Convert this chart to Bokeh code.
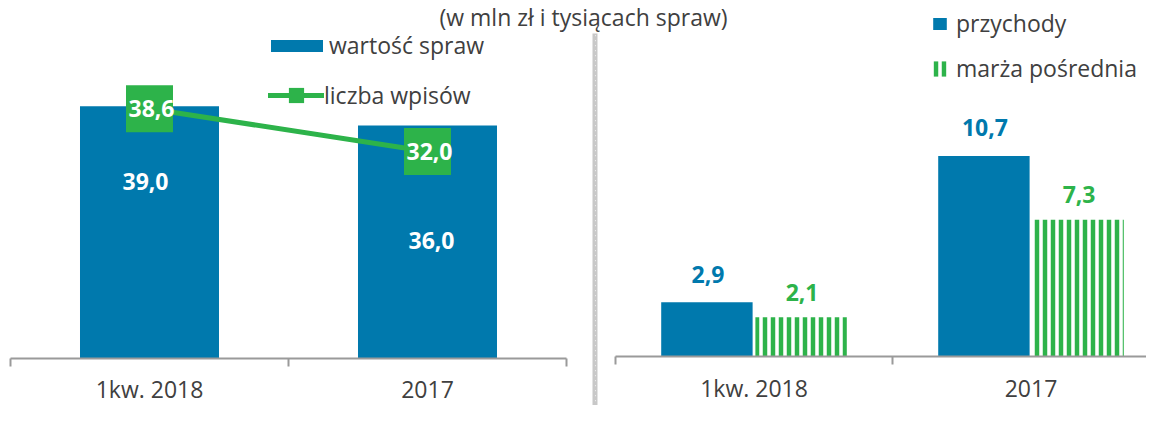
import numpy as np
from bokeh.plotting import figure
from bokeh.models import (Range1d, LinearAxis, FixedTicker, Legend, LegendItem,
                          Label, BoxAnnotation, ColumnDataSource)
from bokeh.core.properties import value
from bokeh.embed import file_html
from bokeh.resources import INLINE

# ---------------- data ----------------
left_categories = ["1kw. 2018", "2017"]
case_value = [39.0, 36.0]        # wartość spraw (mln zł)
entry_count = [38.6, 32.0]       # liczba wpisów (tys.)

right_categories = ["1kw. 2018", "2017"]
revenue = [2.9, 10.7]            # przychody (mln zł)
margin = [2.1, 7.3]              # marża pośrednia (mln zł)

title_text = "(w mln zł i tysiącach spraw)"
legend_left = ["wartość spraw", "liczba wpisów"]
legend_right = ["przychody", "marża pośrednia"]

# ---------------- style ----------------
BLUE = "#0079ad"
GREEN = "#2db34a"
TEXT = "#404040"
AXIS = "#9a9a9a"
SEP = "#c8c8c8"
FONT_NAME = "Open Sans"
FONT = value(FONT_NAME)
FS = "23px"
W, H = 1146, 405


def fmt(v):
    return f"{v:.1f}".replace(".", ",")


p = figure(width=W, height=H, x_axis_type=None, y_axis_type=None,
           toolbar_location=None, output_backend="svg", min_border=0,
           title=None, outline_line_color=None,
           x_range=Range1d(-0.53597, 3.58633), y_range=Range1d(-7.265, 55.332))
p.extra_x_ranges = {"r": Range1d(-2.72022, 1.41696)}
p.extra_y_ranges = {"r": Range1d(-2.613, 18.987)}
p.background_fill_color = "white"
p.border_fill_color = "white"

# ---------------- left chart ----------------
lx = np.arange(len(left_categories), dtype=float)
src_l = ColumnDataSource(dict(
    x=lx, val=case_value, cnt=entry_count,
    val_mid=[v / 2 for v in case_value],
    val_lbl=[fmt(v) for v in case_value],
    cnt_lbl=[fmt(v) for v in entry_count],
    dx=[-4, 4], dy=[-51, -2],
))
bars_l = p.vbar(x="x", top="val", bottom=0, width=0.5, source=src_l,
                fill_color=BLUE, line_color=None)
line_l = p.line(x="x", y="cnt", source=src_l, line_color=GREEN, line_width=5,
                line_cap="round")
mk_l = p.scatter(x="x", y="cnt", source=src_l, marker="square", size=47,
                 fill_color=GREEN, line_color=None)
p.text(x="x", y="val_mid", text="val_lbl", source=src_l, x_offset="dx",
       y_offset="dy",
       text_font=FONT, text_font_style="bold", text_font_size=FS,
       text_color="white", text_align="center", text_baseline="middle")
p.text(x="x", y="cnt", text="cnt_lbl", source=src_l, x_offset=2,
       text_font=FONT, text_font_style="bold", text_font_size=FS,
       text_color="white", text_align="center", text_baseline="middle")

# ---------------- right chart ----------------
rx = np.arange(len(right_categories), dtype=float)
src_r = ColumnDataSource(dict(
    x1=rx - 0.17, x2=rx + 0.17, rev=revenue, mar=margin,
    rev_lbl=[fmt(v) for v in revenue], mar_lbl=[fmt(v) for v in margin],
))
bars_r1 = p.vbar(x="x1", top="rev", bottom=0, width=0.33, source=src_r,
                 x_range_name="r", y_range_name="r",
                 fill_color=BLUE, line_color=None)
bars_r2 = p.vbar(x="x2", top="mar", bottom=0, width=0.33, source=src_r,
                 x_range_name="r", y_range_name="r",
                 fill_color="white", line_color=None,
                 hatch_pattern="vertical_line", hatch_color=GREEN,
                 hatch_scale=8, hatch_weight=4.5)
p.text(x="x1", y="rev", text="rev_lbl", source=src_r, x_range_name="r",
       y_range_name="r", y_offset=-28, x_offset=1,
       text_font=FONT, text_font_style="bold", text_font_size=FS,
       text_color=BLUE, text_align="center", text_baseline="middle")
p.text(x="x2", y="mar", text="mar_lbl", source=src_r, x_range_name="r",
       y_range_name="r", y_offset=-25, x_offset=1,
       text_font=FONT, text_font_style="bold", text_font_size=FS,
       text_color=GREEN, text_align="center", text_baseline="middle")


# ---------------- axes ----------------
def cat_axis(cats, xs, extra=0.0, **kw):
    return LinearAxis(
        fixed_location=0, bounds=(-0.5, len(cats) - 0.5 + extra),
        ticker=FixedTicker(ticks=list(xs),
                           minor_ticks=[i - 0.5 for i in range(len(cats) + 1)]),
        major_label_overrides={float(x): c for x, c in zip(xs, cats)},
        axis_line_color=AXIS, axis_line_width=2,
        major_tick_in=0, major_tick_out=0,
        minor_tick_in=0, minor_tick_out=8,
        minor_tick_line_color=AXIS, minor_tick_line_width=2,
        major_label_standoff=7,
        major_label_text_font=FONT_NAME, major_label_text_font_size=FS,
        major_label_text_color=TEXT, **kw)


p.add_layout(cat_axis(left_categories, lx), "below")
p.add_layout(cat_axis(right_categories, rx, extra=0.3,
                      x_range_name="r", y_range_name="r"), "below")

# ---------------- separator & title ----------------
p.add_layout(BoxAnnotation(left=1.5935, right=1.6115, bottom=-20, top=50.23,
                           fill_alpha=0, line_alpha=0,
                           hatch_pattern="right_diagonal_line",
                           hatch_color=SEP, hatch_scale=5, hatch_weight=3))
p.add_layout(Label(x=583, y=H, x_units="screen", y_units="screen",
                   text=title_text, text_align="center",
                   text_baseline="top", text_font=FONT_NAME,
                   text_font_size=FS, text_color=TEXT))


# ---------------- legends ----------------
def make_legend(label, rends, loc, gw, gh, standoff, lh=20):
    return Legend(items=[LegendItem(label=label, renderers=rends)],
                  location=loc, glyph_width=gw, glyph_height=gh,
                  label_standoff=standoff, label_height=lh, padding=0,
                  margin=0, spacing=0, border_line_color=None,
                  background_fill_alpha=0, label_text_font=FONT_NAME,
                  label_text_font_size=FS, label_text_color=TEXT)


p.add_layout(make_legend(legend_left[0], [bars_l], (264, 344), 65, 15, -8))
p.add_layout(make_legend(legend_left[1], [line_l, mk_l], (268, 291), 56, 38, 0))
p.add_layout(make_legend(legend_right[0], [bars_r1], (931, 366), 17, 15, 8))
p.add_layout(make_legend(legend_right[1], [bars_r2], (931, 321), 17, 19, 8))

open("out.html", "w").write(file_html(p, INLINE))
